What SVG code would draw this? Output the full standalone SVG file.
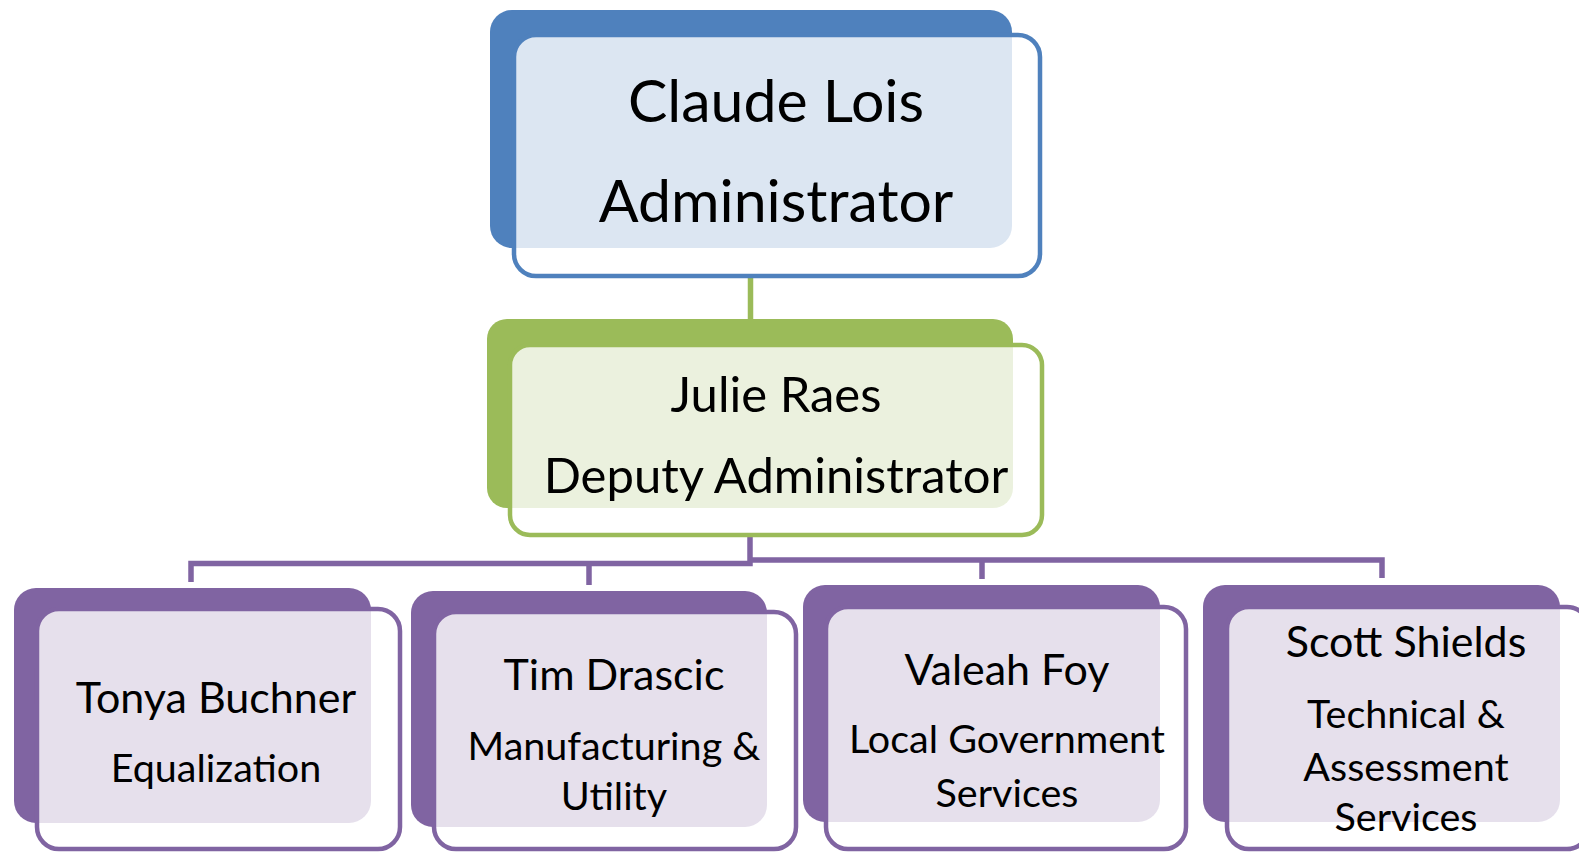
<svg xmlns="http://www.w3.org/2000/svg" width="1579" height="852" viewBox="0 0 1579 852">
<style>
.front{fill:#ffffff;fill-opacity:0.8;stroke-width:4.5}
.t{font-family:Lato,"Open Sans","Liberation Sans",sans-serif;fill:#000;text-anchor:middle}
.n{font-size:43px}.s{font-size:39.5px}
.blue .back{fill:#4F81BD}.blue .front{stroke:#4F81BD}
.green .back{fill:#9BBB59}.green .front{stroke:#9BBB59}
.purple .back{fill:#8064A2}.purple .front{stroke:#8064A2}
.conn{fill:none;stroke-width:5.5;stroke-linejoin:miter}
</style>
<rect width="1579" height="852" fill="#ffffff"/>
<g id="connectors">
<path class="conn" stroke="#9BBB59" d="M750.5 278 V319"/>
<path class="conn" stroke="#8064A2" d="M750 537 V563.5 H191 V582 M589 563.5 V585"/>
<path class="conn" stroke="#8064A2" d="M750 560 H1382 V578 M982 560 V579"/>
</g>
<g id="node-claude" class="blue">
<rect class="back" x="490" y="10" width="522" height="238" rx="22"/>
<rect class="front" x="514" y="35" width="526" height="241" rx="22"/>
<text class="t" x="776" y="122" font-size="59">Claude Lois</text>
<text class="t" x="776" y="222" font-size="59">Administrator</text>
</g>
<g id="node-julie" class="green">
<rect class="back" x="487" y="319" width="526" height="189" rx="20"/>
<rect class="front" x="510" y="345" width="532" height="190" rx="20"/>
<text class="t" x="776" y="412" font-size="49">Julie Raes</text>
<text class="t" x="776" y="493" font-size="49">Deputy Administrator</text>
</g>
<g id="node-tonya" class="purple">
<rect class="back" x="14" y="588" width="357" height="235" rx="22"/>
<rect class="front" x="37" y="609" width="363" height="240" rx="22"/>
<text class="t n" x="216" y="713">Tonya Buchner</text>
<text class="t s" x="216" y="782">Equalization</text>
</g>
<g id="node-tim" class="purple">
<rect class="back" x="411" y="591" width="356" height="236" rx="22"/>
<rect class="front" x="434" y="612" width="362" height="237" rx="22"/>
<text class="t n" x="614" y="690">Tim Drascic</text>
<text class="t s" x="614" y="760">Manufacturing &amp;</text>
<text class="t s" x="614" y="810">Utility</text>
</g>
<g id="node-valeah" class="purple">
<rect class="back" x="803" y="585" width="357" height="237" rx="22"/>
<rect class="front" x="826" y="607" width="360" height="242" rx="22"/>
<text class="t n" x="1007" y="685">Valeah Foy</text>
<text class="t s" x="1007" y="753">Local Government</text>
<text class="t s" x="1007" y="807">Services</text>
</g>
<g id="node-scott" class="purple">
<rect class="back" x="1203" y="585" width="357" height="237" rx="22"/>
<rect class="front" x="1227" y="607" width="362" height="242" rx="22"/>
<text class="t n" x="1406" y="657">Scott Shields</text>
<text class="t s" x="1406" y="728">Technical &amp;</text>
<text class="t s" x="1406" y="781">Assessment</text>
<text class="t s" x="1406" y="831">Services</text>
</g>
</svg>
